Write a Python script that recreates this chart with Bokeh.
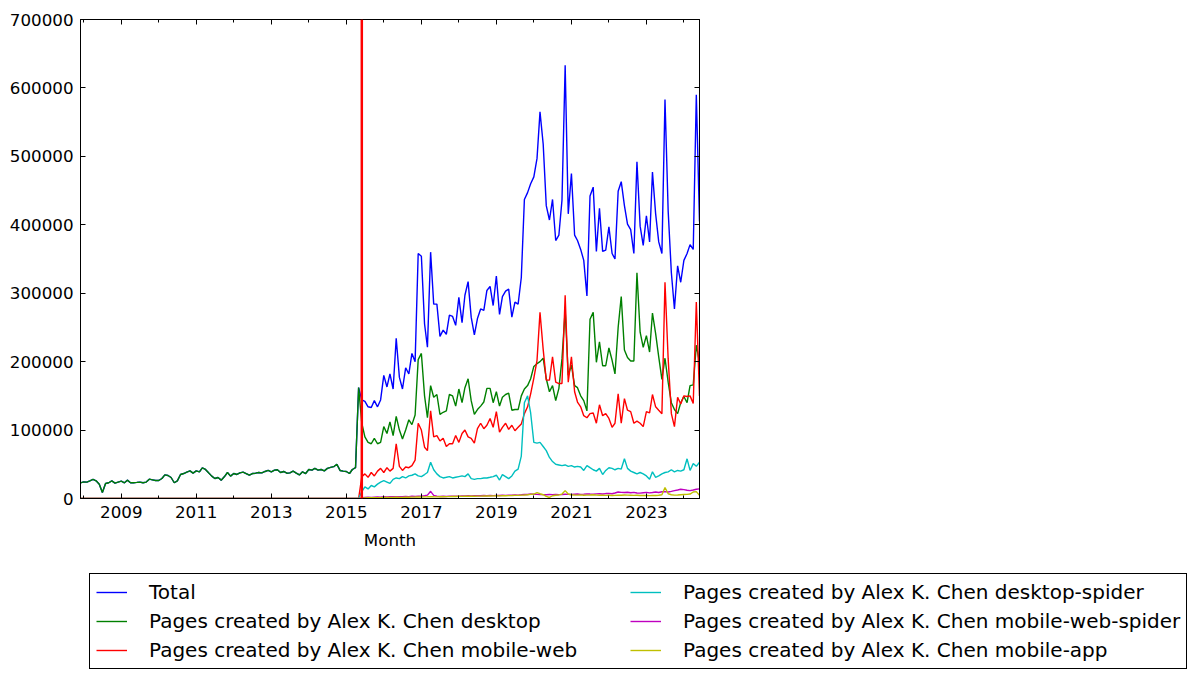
import pandas as pd
from bokeh.plotting import figure
from bokeh.models import (Span, Legend, LegendItem, FixedTicker, LinearAxis,
                          DatetimeAxis, DatetimeTickFormatter, CustomJSTickFormatter,
                          BasicTickFormatter, Range1d, ColumnDataSource)
from bokeh.embed import file_html
from bokeh.resources import INLINE

# ---------------- data (monthly, Dec 2007 .. Jun 2024) ----------------
first_month = "2007-12-01"
last_month = "2024-06-01"
split_month = "2015-06-01"          # red vertical marker

# Dec 2007 .. May 2015: single series (total == desktop in the picture)
early_views = [
    22800, 24300, 24000, 25800, 27800, 25800, 20900, 8800, 22000, 23000,
    25800, 22500, 24000, 25400, 23000, 26800, 23000, 23000, 23500, 24000,
    23000, 24000, 28300, 27300, 26300, 26300, 29200, 34500, 33600, 30700,
    23000, 25800, 35100, 36500, 38500, 40400, 37000, 40400, 39000, 44800,
    42400, 37500, 32700, 29200, 30700, 26800, 31700, 38000, 32700, 36500,
    35100, 37500, 38500, 36500, 34000,
    36500, 37000, 38000, 37500, 39500, 41000, 38900, 41500, 42000, 38000,
    39500, 37000, 37500, 40000, 37000, 34500, 39000, 36500, 42400, 41400,
    44000, 41500, 42400, 40400, 44000, 45500, 46500, 50000, 41000, 40000,
    39500, 36500, 42400, 45000, 162000,
]

# Jun 2015 .. Jun 2024
total_late = [
    144000, 142000, 134000, 133000, 143000, 134000, 144000, 180000, 163000, 182000,
    160000, 234000, 177000, 160000, 191000, 182000, 212000, 200000, 358000, 354000,
    255000, 221000, 360000, 284000, 284000, 237000, 246000, 240000, 268000, 266000,
    253000, 294000, 257000, 297000, 317000, 265000, 239000, 263000, 277000, 275000,
    304000, 310000, 282000, 325000, 269000, 295000, 303000, 306000, 265000, 287000,
    284000, 323000, 437000, 447000, 460000, 470000, 497000, 565000, 518000, 428000,
    407000, 437000, 377000, 385000, 436000, 633000, 416000, 475000, 385000, 377000,
    364000, 348000, 296000, 442000, 455000, 361000, 424000, 361000, 363000, 397000,
    358000, 350000, 449000, 463000, 428000, 401000, 393000, 358000, 492000, 398000,
    370000, 413000, 375000, 477000, 416000, 375000, 358000, 583000, 420000, 330000,
    277000, 340000, 316000, 348000, 358000, 371000, 364000, 590000, 405000,
]
desktop_late = [
    110000, 90000, 82000, 80000, 88000, 80000, 82000, 105000, 95000, 112000,
    92000, 120000, 100000, 87000, 100000, 115000, 108000, 122000, 203000, 212000,
    150000, 118000, 165000, 148000, 152000, 123000, 126000, 128000, 152000, 150000,
    135000, 160000, 140000, 162000, 175000, 143000, 123000, 130000, 135000, 141000,
    161000, 161000, 140000, 156000, 135000, 148000, 152000, 154000, 129000, 130000,
    130000, 150000, 160000, 165000, 175000, 193000, 197000, 200000, 205000, 175000,
    156000, 165000, 143000, 161000, 204000, 275000, 180000, 195000, 165000, 162000,
    150000, 143000, 128000, 262000, 272000, 199000, 229000, 194000, 194000, 220000,
    202000, 182000, 250000, 295000, 217000, 206000, 201000, 201000, 330000, 243000,
    221000, 238000, 214000, 271000, 241000, 207000, 174000, 205000, 170000, 140000,
    130000, 124000, 140000, 149000, 140000, 165000, 166000, 224000, 199000,
]
mobile_web_late = [
    32000, 36000, 31000, 38000, 33000, 40000, 44000, 38000, 45000, 40000,
    44000, 80000, 47000, 41000, 46000, 45000, 48000, 56000, 110000, 100000,
    75000, 70000, 128000, 90000, 92000, 84000, 88000, 76000, 80000, 80000,
    92000, 82000, 95000, 100000, 90000, 88000, 81000, 102000, 110000, 102000,
    107000, 117000, 104000, 127000, 97000, 104000, 110000, 101000, 107000, 99000,
    104000, 109000, 124000, 134000, 153000, 176000, 202000, 272000, 218000, 173000,
    173000, 207000, 170000, 168000, 168000, 297000, 170000, 207000, 156000, 141000,
    134000, 121000, 118000, 124000, 125000, 110000, 137000, 121000, 124000, 117000,
    104000, 110000, 153000, 110000, 146000, 129000, 127000, 110000, 113000, 110000,
    105000, 127000, 125000, 152000, 134000, 129000, 124000, 316000, 204000, 124000,
    105000, 148000, 138000, 150000, 149000, 150000, 139000, 287000, 150000,
]
desktop_spider_late = [
    10000, 17000, 14000, 19000, 17000, 21000, 24000, 26000, 24000, 22000,
    28000, 30000, 29000, 32000, 30000, 33000, 34000, 36000, 33000, 32000,
    35000, 38000, 53000, 42000, 36000, 32000, 30000, 31000, 32000, 30000,
    31000, 32000, 33000, 32000, 36000, 29000, 28000, 29000, 29000, 30000,
    30000, 31000, 32000, 34000, 27000, 35000, 32000, 29000, 33000, 40000,
    43000, 62000, 140000, 150000, 125000, 82000, 81000, 82000, 76000, 70000,
    60000, 54000, 50000, 49000, 48000, 49000, 47000, 48000, 46000, 47000,
    46000, 41000, 48000, 45000, 42000, 40000, 44000, 35000, 41000, 45000,
    44000, 42000, 44000, 43000, 58000, 44000, 40000, 38000, 36000, 38000,
    36000, 33000, 28000, 39000, 31000, 33000, 36000, 38000, 39000, 42000,
    39000, 41000, 40000, 42000, 58000, 41000, 51000, 47000, 53000,
]
mobile_web_spider_late = [
    1000, 1500, 1800, 1600, 2000, 2200, 2000, 2500, 2300, 2600,
    2500, 2800, 2700, 2600, 3000, 2800, 3200, 3000, 3300, 3500,
    4000, 5000, 10500, 4500, 3500, 3000, 3200, 3000, 3400, 3200,
    3500, 3300, 3600, 3800, 4000, 3800, 4000, 4200, 4000, 4300,
    4100, 4500, 4200, 4600, 4400, 4800, 4600, 5000, 4700, 5200,
    5000, 5500, 6000, 5800, 6500, 6200, 6000, 5800, 5600, 5500,
    5800, 5600, 6000, 5700, 5900, 6200, 6000, 5800, 6300, 6500,
    6100, 6400, 6800, 6500, 6300, 6700, 7000, 6500, 7200, 7500,
    7000, 8000, 9500, 9000, 8800, 9200, 8500, 9000, 8000, 7800,
    8500, 9000, 8200, 8800, 9500, 8700, 9800, 10000, 9500, 10500,
    11500, 12500, 13500, 13000, 12000, 11500, 12500, 13500, 14000,
]
mobile_app_late = [
    500, 900, 1100, 1000, 1200, 1300, 1200, 1400, 1500, 1400,
    1600, 1800, 1700, 1600, 1800, 1900, 2000, 2100, 2300, 2200,
    2400, 2500, 2700, 2500, 2400, 2600, 2500, 2700, 2800, 2900,
    3000, 3200, 3100, 3300, 3400, 3200, 3300, 3500, 3400, 3600,
    3800, 3700, 3900, 4000, 3800, 4100, 4000, 4200, 4300, 4500,
    4600, 5000, 5200, 5500, 6000, 6500, 8500, 7000, 5500, 3000,
    1500, 4000, 4800, 5200, 6500, 11500, 6500, 5500, 5200, 5000,
    5300, 4800, 5000, 5200, 5500, 5000, 4800, 5000, 4500, 4700,
    4400, 4600, 5000, 4800, 5200, 5000, 4800, 4500, 4700, 4300,
    4600, 4400, 4200, 4500, 4300, 4800, 5500, 16000, 7000, 5500,
    5000, 5200, 5500, 5800, 6000, 6500, 9500, 10000, 4500,
]

series_names = [
    "Total",
    "Pages created by Alex K. Chen desktop",
    "Pages created by Alex K. Chen mobile-web",
    "Pages created by Alex K. Chen desktop-spider",
    "Pages created by Alex K. Chen mobile-web-spider",
    "Pages created by Alex K. Chen mobile-app",
]
series_colors = ["#0000ff", "#008000", "#ff0000", "#00bfbf", "#bf00bf", "#bfbf00"]

y_ticks = [0, 100000, 200000, 300000, 400000, 500000, 600000, 700000]
label_years = [2009, 2011, 2013, 2015, 2017, 2019, 2021, 2023]
minor_years = [2008, 2010, 2012, 2014, 2016, 2018, 2020, 2022, 2024]

# ---------------- assemble ----------------
months = pd.date_range(first_month, last_month, freq="MS")
n_early = len(early_views)
zeros_early = [0] * n_early
columns = [
    early_views + total_late,
    early_views + desktop_late,
    zeros_early + mobile_web_late,
    zeros_early + desktop_spider_late,
    zeros_early + mobile_web_spider_late,
    zeros_early + mobile_app_late,
]
sources = [ColumnDataSource(dict(x=months, y=vals)) for vals in columns]

def ms(s):
    return pd.Timestamp(s).value // 10**6

FONT = "DejaVu Sans"
W = 1198
H_TOP = 560
H_LEG = 679 - H_TOP
LW = 1.4

p = figure(width=W, height=H_TOP, x_axis_type="datetime",
           x_range=Range1d(months[0], months[-1]), y_range=Range1d(0, 700000),
           output_backend="svg", toolbar_location=None,
           min_border_left=80, min_border_right=499, min_border_top=19,
           min_border_bottom=62)
p.background_fill_color = "white"
p.border_fill_color = "white"
p.outline_line_color = "black"
p.outline_line_alpha = 1.0
p.outline_line_width = 1
p.xgrid.visible = False
p.ygrid.visible = False

for color, src in zip(series_colors, sources):
    p.line("x", "y", source=src, line_color=color, line_width=LW)

p.add_layout(Span(location=ms(split_month), dimension="height",
                  line_color="red", line_width=2.5))

xticker = FixedTicker(ticks=[ms(f"{y}-01-01") for y in label_years],
                      minor_ticks=[ms(f"{y}-01-01") for y in minor_years])
yticker = FixedTicker(ticks=y_ticks)
fmt_year = DatetimeTickFormatter(years="%Y", months="%Y", days="%Y", hours="%Y")

def style_axis(ax):
    ax.axis_line_color = "black"
    ax.major_tick_in = 5
    ax.major_tick_out = 0
    ax.minor_tick_in = 3
    ax.minor_tick_out = 0
    ax.major_tick_line_color = "black"
    ax.minor_tick_line_color = "black"
    ax.major_label_text_font = FONT
    ax.major_label_text_font_size = "16.7px"
    ax.major_label_text_color = "black"

xa = p.xaxis[0]
style_axis(xa)
xa.ticker = xticker
xa.formatter = fmt_year
xa.major_label_standoff = 7
xa.axis_label = "Month"
xa.axis_label_text_font = FONT
xa.axis_label_text_font_size = "16.7px"
xa.axis_label_text_font_style = "normal"
xa.axis_label_text_color = "black"
xa.axis_label_standoff = 9

ya = p.yaxis[0]
style_axis(ya)
ya.ticker = yticker
ya.formatter = BasicTickFormatter(use_scientific=False)
ya.major_label_standoff = 7
ya.minor_tick_in = 0

blank = CustomJSTickFormatter(code="return '';")
top = DatetimeAxis(ticker=xticker, formatter=blank)
style_axis(top)
top.major_label_standoff = 0
top.major_label_text_font_size = "1px"
p.add_layout(top, "above")

right = LinearAxis(ticker=yticker, formatter=blank)
style_axis(right)
right.minor_tick_in = 0
right.major_label_standoff = 0
right.major_label_text_font_size = "1px"
p.add_layout(right, "right")

# ---------------- legend strip below the chart ----------------
# Same series, but the ranges of this strip show none of the data;
# it only hosts the legend.
q = figure(width=W, height=H_LEG, x_range=Range1d(-2, -1), y_range=Range1d(-2, -1),
           output_backend="svg", toolbar_location=None,
           x_axis_location=None, y_axis_location=None,
           min_border_left=0, min_border_right=0, min_border_top=0,
           min_border_bottom=0)
q.outline_line_color = None
q.xgrid.visible = False
q.ygrid.visible = False
q.background_fill_color = "white"
q.border_fill_color = "white"

legend_renderers = [q.line("x", "y", source=src, line_color=color, line_width=LW)
                    for color, src in zip(series_colors, sources)]

legend = Legend(
    items=[LegendItem(label=n, renderers=[r]) for n, r in zip(series_names, legend_renderers)],
    location=(89, H_LEG - (669 - H_TOP)), ncols=2, orientation="vertical",
    label_text_font=FONT, label_text_font_size="20px", label_text_color="black",
    glyph_width=31, glyph_height=20, label_height=20, label_standoff=22,
    label_width=476, spacing=5, padding=6, margin=0,
    border_line_color="black", border_line_width=1, border_line_alpha=1.0,
    background_fill_color="white", background_fill_alpha=1.0,
)
q.add_layout(legend)

open("out.html", "w").write(file_html([p, q], INLINE))
